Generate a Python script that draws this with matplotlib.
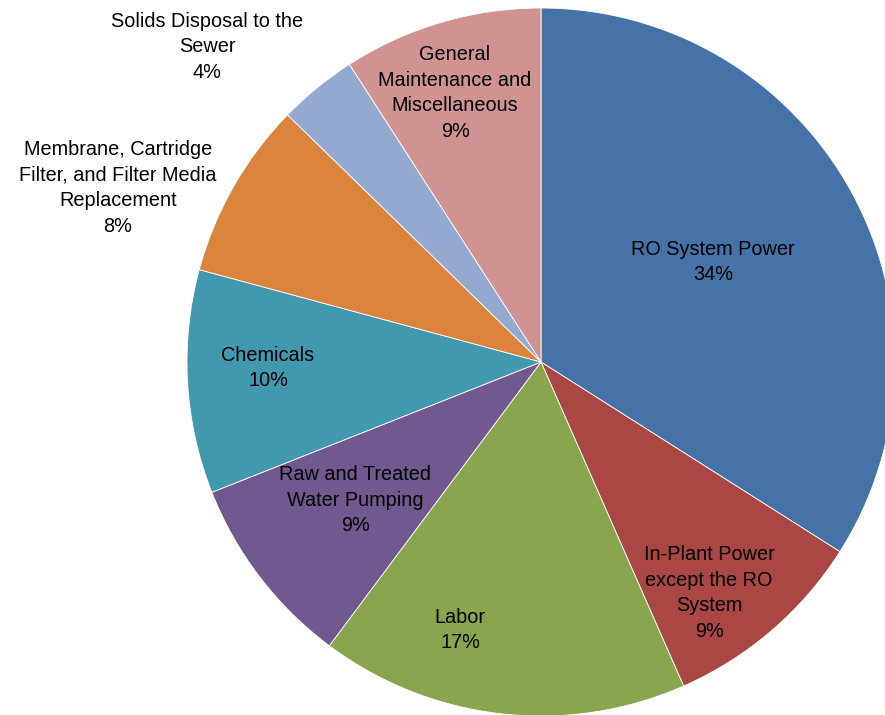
import matplotlib
matplotlib.use("Agg")
import matplotlib.pyplot as plt

plt.rcParams['font.family'] = ['Liberation Sans', 'DejaVu Sans']

categories = [
    "RO System Power",
    "In-Plant Power\nexcept the RO\nSystem",
    "Labor",
    "Raw and Treated\nWater Pumping",
    "Chemicals",
    "Membrane, Cartridge\nFilter, and Filter Media\nReplacement",
    "Solids Disposal to the\nSewer",
    "General\nMaintenance and\nMiscellaneous",
]
values = [34.0, 9.4, 16.8, 8.8, 10.2, 8.1, 3.6, 9.1]
pct_labels = ["34%", "9%", "17%", "9%", "10%", "8%", "4%", "9%"]
colors = ["#4572A7", "#AA4643", "#89A54E", "#71588F",
          "#4198AF", "#DB843D", "#93A9CF", "#D19392"]

# label centre positions in pixel coordinates (x, y from top)
label_pos = [(713, 262), (709, 593), (460, 630), (355, 500),
             (268, 368), (118, 188), (207, 47), (455, 93)]

W, H = 885, 715
fig = plt.figure(figsize=(W / 100, H / 100), dpi=100)
ax = fig.add_axes([0, 0, 1, 1])
ax.pie(values, colors=colors, startangle=90, counterclock=False,
       radius=354, center=(541, H - 362),
       wedgeprops=dict(edgecolor="white", linewidth=0.6))
ax.set_xlim(0, W)
ax.set_ylim(0, H)
ax.set_aspect('equal')
ax.axis('off')

for cat, pct, (x, y) in zip(categories, pct_labels, label_pos):
    ax.text(x, H - y, cat + "\n" + pct, ha="center", va="center",
            fontsize=14.3, linespacing=1.44, color="black")

fig.savefig("out.png", dpi=100)
